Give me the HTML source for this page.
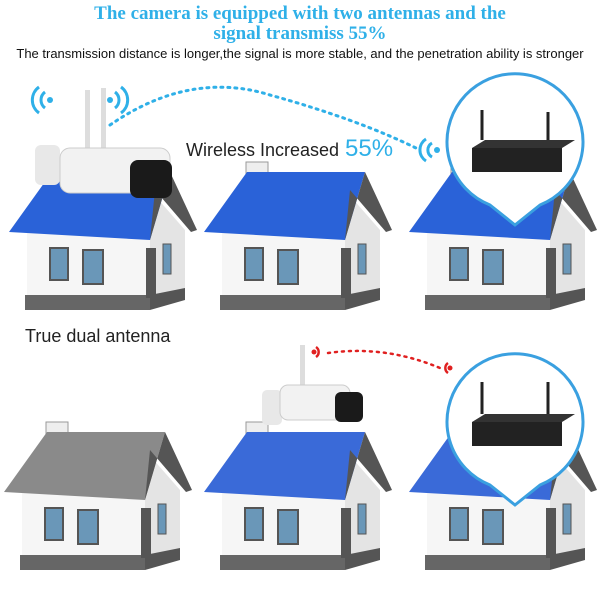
<!DOCTYPE html><html><head><style>body{margin:0;width:600px;height:586px;background:#fff;overflow:hidden;font-family:"Liberation Sans",sans-serif}</style></head><body>
<svg width="600" height="586" viewBox="0 0 600 586">
<defs>
<g id="hb">
<rect x="46" y="12" width="22" height="35" fill="#eee" stroke="#999"/>
<polygon points="145,40 180,80 180,140 145,145" fill="#e4e4e4"/>
<rect x="22" y="82" width="123" height="65" fill="#f6f6f6"/>
<rect x="20" y="145" width="125" height="15" fill="#666"/>
<polygon points="145,145 180,138 180,150 145,160" fill="#555"/>
<rect x="45" y="98" width="18" height="32" fill="#6a97b8" stroke="#555" stroke-width="2"/>
<rect x="78" y="100" width="20" height="34" fill="#6a97b8" stroke="#555" stroke-width="2"/>
<rect x="141" y="98" width="10" height="50" fill="#555"/>
<rect x="158" y="94" width="8" height="30" fill="#6a97b8" stroke="#555"/>
</g>
</defs>
<text x="300" y="19" text-anchor="middle" font-family="Liberation Serif" font-weight="bold" font-size="19" fill="#2fb0e8">The camera is equipped with two antennas and the</text>
<text x="300" y="39" text-anchor="middle" font-family="Liberation Serif" font-weight="bold" font-size="19" fill="#2fb0e8">signal transmiss 55%</text>
<text x="300" y="58" text-anchor="middle" font-size="13" fill="#111">The transmission distance is longer,the signal is more stable, and the penetration ability is stronger</text>

<g transform="translate(5,150)"><use href="#hb"/><polygon points="47,22 165,22 145,90 4,82" fill="#2a62d8"/><polygon points="165,22 192,80 186,82 150,40 145,90" fill="#555"/></g>
<g transform="translate(200,150)"><use href="#hb"/><polygon points="47,22 165,22 145,90 4,82" fill="#2a62d8"/><polygon points="165,22 192,80 186,82 150,40 145,90" fill="#555"/></g>
<g transform="translate(405,150)"><use href="#hb"/><polygon points="47,22 165,22 145,90 4,82" fill="#2a62d8"/><polygon points="165,22 192,80 186,82 150,40 145,90" fill="#555"/></g>
<g transform="translate(0,410)"><use href="#hb"/><polygon points="47,22 165,22 145,90 4,82" fill="#8a8a8a"/><polygon points="165,22 192,80 186,82 150,40 145,90" fill="#555"/></g>
<g transform="translate(200,410)"><use href="#hb"/><polygon points="47,22 165,22 145,90 4,82" fill="#3a6ad8"/><polygon points="165,22 192,80 186,82 150,40 145,90" fill="#555"/></g>
<g transform="translate(405,410)"><use href="#hb"/><polygon points="47,22 165,22 145,90 4,82" fill="#3a6ad8"/><polygon points="165,22 192,80 186,82 150,40 145,90" fill="#555"/></g>

<path d="M515,225 L490,205 A68,68 0 1 1 540,205 Z" fill="#fff" stroke="#3aa0e0" stroke-width="3"/>
<path d="M515,505 L490,485 A68,68 0 1 1 540,485 Z" fill="#fff" stroke="#3aa0e0" stroke-width="3"/>
<rect x="472" y="148" width="90" height="24" fill="#222"/><polygon points="472,148 562,148 575,140 485,140" fill="#333"/>
<line x1="482" y1="140" x2="482" y2="110" stroke="#222" stroke-width="3"/><line x1="548" y1="140" x2="548" y2="112" stroke="#222" stroke-width="3"/>
<rect x="472" y="422" width="90" height="24" fill="#222"/><polygon points="472,422 562,422 575,414 485,414" fill="#333"/>
<line x1="482" y1="414" x2="482" y2="382" stroke="#222" stroke-width="3"/><line x1="548" y1="414" x2="548" y2="382" stroke="#222" stroke-width="3"/>

<rect x="85" y="90" width="5" height="60" fill="#ddd"/><rect x="101" y="88" width="5" height="60" fill="#ddd"/>
<rect x="35" y="145" width="25" height="40" rx="6" fill="#e8e8e8"/>
<rect x="60" y="148" width="110" height="45" rx="10" fill="#f2f2f2" stroke="#ccc"/>
<rect x="130" y="160" width="42" height="38" rx="8" fill="#1a1a1a"/>
<rect x="300" y="345" width="5" height="60" fill="#ddd"/>
<rect x="262" y="390" width="20" height="35" rx="5" fill="#e8e8e8"/>
<rect x="280" y="385" width="70" height="35" rx="8" fill="#f2f2f2" stroke="#ccc"/>
<rect x="335" y="392" width="28" height="30" rx="6" fill="#1a1a1a"/>

<path d="M110,125 Q190,70 270,95 Q360,120 420,150" fill="none" stroke="#2fb0e8" stroke-width="3" stroke-dasharray="2,5" stroke-linecap="round"/>
<g fill="none" stroke="#2fb0e8" stroke-width="3"><path d="M45,92 a10,10 0 0 0 0,16"/><path d="M39,87 a16,16 0 0 0 0,26"/><path d="M115,92 a10,10 0 0 1 0,16"/><path d="M121,87 a16,16 0 0 1 0,26"/><path d="M432,143 a8,8 0 0 0 0,14"/><path d="M426,139 a13,13 0 0 0 0,22"/></g>
<circle cx="50" cy="100" r="3" fill="#2fb0e8"/><circle cx="110" cy="100" r="3" fill="#2fb0e8"/><circle cx="437" cy="150" r="3" fill="#2fb0e8"/>
<path d="M328,353 Q385,345 440,368" fill="none" stroke="#e02020" stroke-width="2.5" stroke-dasharray="2,5" stroke-linecap="round"/>
<g fill="none" stroke="#e02020" stroke-width="2.5"><path d="M316,347 a6,6 0 0 1 0,10"/><path d="M448,363 a6,6 0 0 0 0,10"/></g>
<circle cx="314" cy="352" r="2.5" fill="#e02020"/><circle cx="450" cy="368" r="2.5" fill="#e02020"/>

<text x="186" y="156" font-size="18" fill="#222">Wireless Increased</text>
<text x="345" y="156" font-size="24" fill="#2fb0e8">55%</text>
<text x="25" y="342" font-size="18" fill="#222">True dual antenna</text>
</svg>
</body></html>
